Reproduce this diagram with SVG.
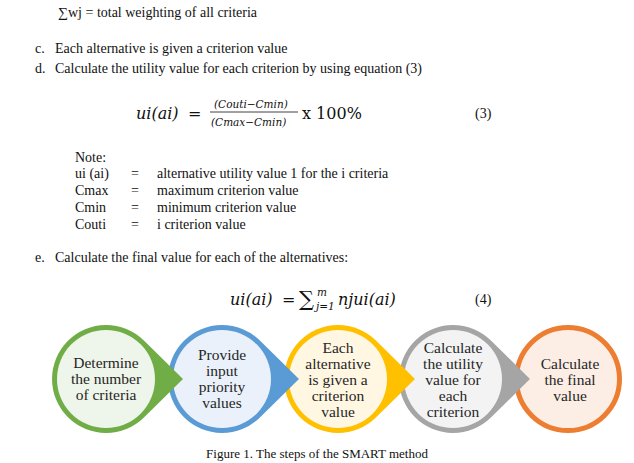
<svg xmlns="http://www.w3.org/2000/svg" width="634" height="463" viewBox="0 0 634 463">
<style>
text{font-family:"Liberation Serif",serif;font-size:14px;fill:#111}
.m{font-family:"DejaVu Serif","Liberation Serif",serif;font-style:italic;font-size:16px}
.mn{font-family:"DejaVu Serif","Liberation Serif",serif;font-size:16px}
.ms{font-family:"DejaVu Serif","Liberation Serif",serif;font-style:italic;font-size:10.5px}
.n{font-size:15.5px;text-anchor:middle;fill:#262626}
</style>
<rect width="634" height="463" fill="#fff"/>
<text x="58" y="17">∑wj = total weighting of all criteria</text>
<text x="35" y="53">c.</text>
<text x="55" y="53">Each alternative is given a criterion value</text>
<text x="35" y="73">d.</text>
<text x="55" y="73">Calculate the utility value for each criterion by using equation (3)</text>
<text class="m" x="136" y="119">ui(ai)</text><text class="mn" x="188" y="119">=</text>
<text class="ms" x="214" y="108">(Couti−Cmin)</text>
<line x1="210" y1="112" x2="298" y2="112" stroke="#111" stroke-width="0.8"/>
<text class="ms" x="211" y="126">(Cmax−Cmin)</text>
<text class="mn" x="302" y="119">x 100%</text>
<text x="475" y="118">(3)</text>
<text x="75" y="162">Note:</text>
<text x="75" y="178">ui (ai)</text><text x="131" y="178">=</text><text x="157" y="178">alternative utility value 1 for the i criteria</text>
<text x="75" y="195">Cmax</text><text x="131" y="195">=</text><text x="157" y="195">maximum criterion value</text>
<text x="75" y="212">Cmin</text><text x="131" y="212">=</text><text x="157" y="212">minimum criterion value</text>
<text x="75" y="229">Couti</text><text x="131" y="229">=</text><text x="157" y="229">i criterion value</text>
<text x="35" y="262">e.</text>
<text x="55" y="262">Calculate the final value for each of the alternatives:</text>
<text class="m" x="230" y="305">ui(ai)</text><text class="mn" x="282" y="305">=</text>
<text class="mn" x="299" y="306" style="font-size:21px">∑</text>
<text class="ms" x="317" y="296">m</text><text class="ms" x="316" y="310">j=1</text>
<text class="m" x="338" y="305">njui(ai)</text>
<text x="475" y="304">(4)</text>
<g id="node5"><circle cx="568" cy="379" r="51.5" fill="#FCEEE5" stroke="#ED7D31" stroke-width="5"/>
<text class="n" x="570" y="369">Calculate</text><text class="n" x="570" y="385">the final</text><text class="n" x="570" y="401">value</text></g>
<g id="node4"><path d="M530,379 L490.9,340.5 A54,54 0 1 0 490.9,417.5 Z" fill="#A5A5A5"/><circle cx="453" cy="379" r="49" fill="#F3F3F3"/>
<text class="n" x="453" y="353">Calculate</text><text class="n" x="453" y="369">the utility</text><text class="n" x="453" y="385">value for</text><text class="n" x="453" y="401">each</text><text class="n" x="453" y="417">criterion</text></g>
<g id="node3"><path d="M415,379 L375.9,340.5 A54,54 0 1 0 375.9,417.5 Z" fill="#FFC000"/><circle cx="338" cy="379" r="49" fill="#FFF7E2"/>
<text class="n" x="338" y="353">Each</text><text class="n" x="338" y="369">alternative</text><text class="n" x="338" y="385">is given a</text><text class="n" x="338" y="401">criterion</text><text class="n" x="338" y="417">value</text></g>
<g id="node2"><path d="M299,379 L259.9,340.5 A54,54 0 1 0 259.9,417.5 Z" fill="#5B9BD5"/><circle cx="222" cy="379" r="49" fill="#EAF1FA"/>
<text class="n" x="222" y="360">Provide</text><text class="n" x="222" y="376">input</text><text class="n" x="222" y="392">priority</text><text class="n" x="222" y="408">values</text></g>
<g id="node1"><path d="M183,379 L143.9,340.5 A54,54 0 1 0 143.9,417.5 Z" fill="#70AD47"/><circle cx="106" cy="379" r="49" fill="#EEF5EA"/>
<text class="n" x="106" y="368">Determine</text><text class="n" x="106" y="384">the number</text><text class="n" x="106" y="400">of criteria</text></g>
<g id="connectors"/>
<text x="317" y="458" text-anchor="middle" style="font-size:13px">Figure 1. The steps of the SMART method</text>
</svg>
